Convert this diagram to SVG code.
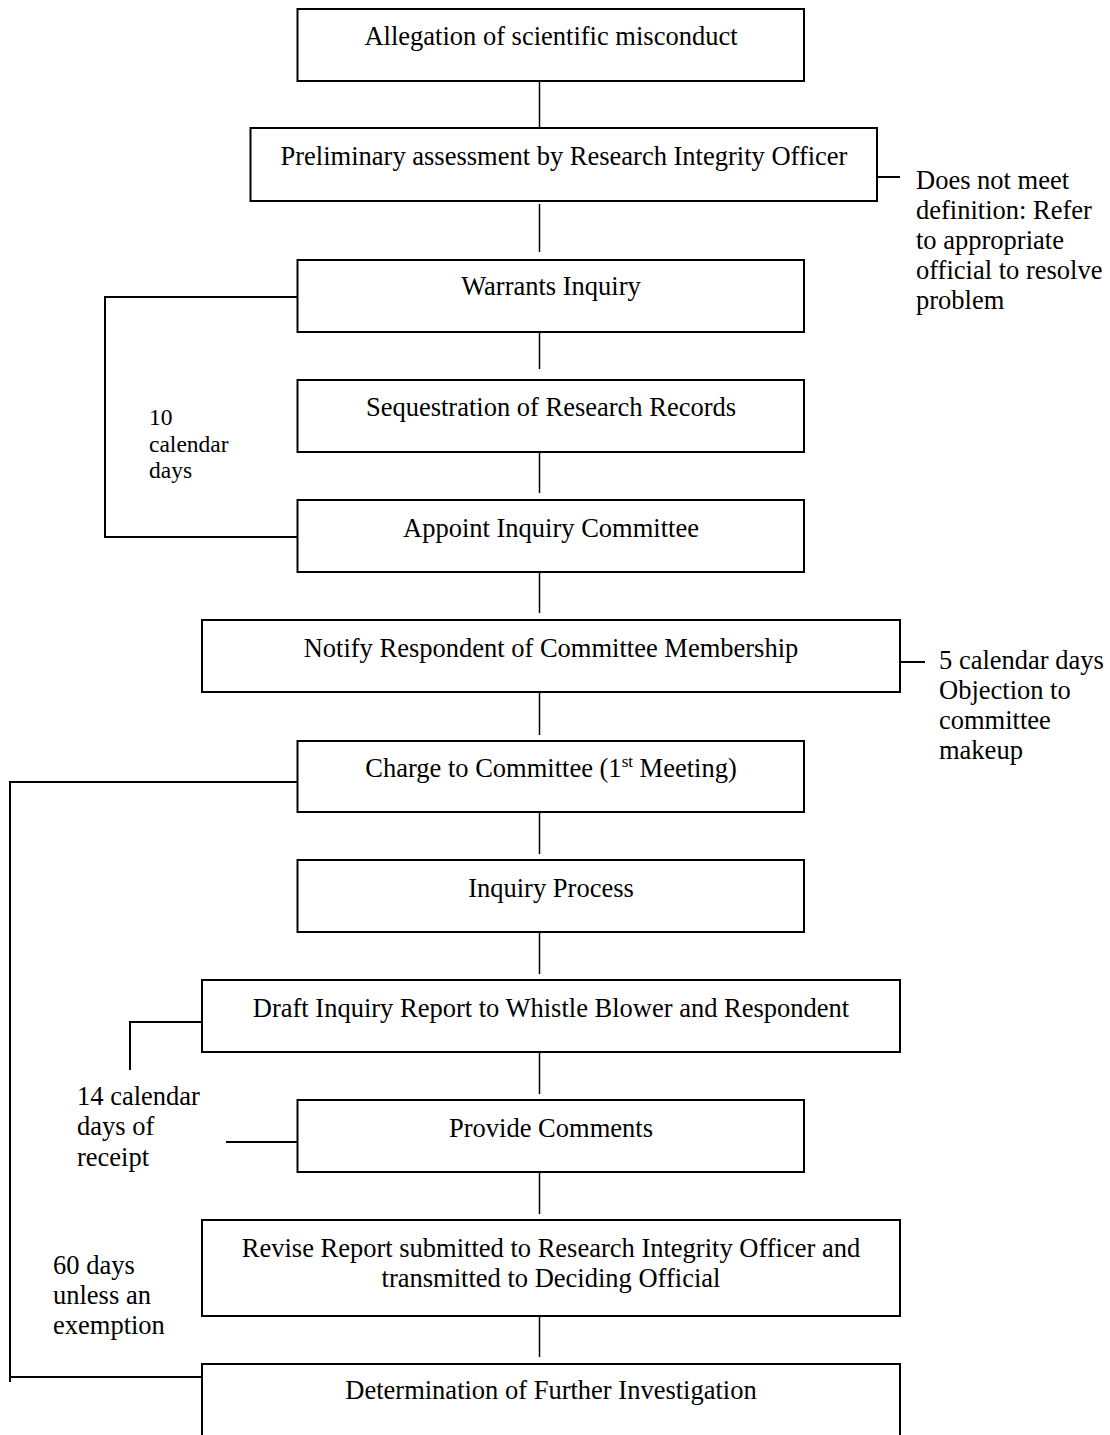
<svg xmlns="http://www.w3.org/2000/svg" width="1110" height="1435" viewBox="0 0 1110 1435">
<style>
.box{fill:#fff;stroke:#000;stroke-width:2}
.c{fill:none;stroke:#000;stroke-width:1.5}
.b{fill:none;stroke:#000;stroke-width:2}
text{font-family:"Liberation Serif","Times New Roman",serif;font-size:26.5px;fill:#000}
.m{text-anchor:middle}
.s{font-size:23.5px}
</style>
<rect width="1110" height="1435" fill="#fff"/>
<g id="connectors">
<line class="c" x1="539.5" y1="81" x2="539.5" y2="128"/>
<line class="c" x1="539.5" y1="204" x2="539.5" y2="252"/>
<line class="c" x1="539.5" y1="320" x2="539.5" y2="369"/>
<line class="c" x1="539.5" y1="443" x2="539.5" y2="493"/>
<line class="c" x1="539.5" y1="563" x2="539.5" y2="613"/>
<line class="c" x1="539.5" y1="687" x2="539.5" y2="735"/>
<line class="c" x1="539.5" y1="812" x2="539.5" y2="854"/>
<line class="c" x1="539.5" y1="932" x2="539.5" y2="974"/>
<line class="c" x1="539.5" y1="1052" x2="539.5" y2="1094"/>
<line class="c" x1="539.5" y1="1172" x2="539.5" y2="1214"/>
<line class="c" x1="539.5" y1="1316" x2="539.5" y2="1357"/>
<line class="b" x1="877" y1="177" x2="900" y2="177"/>
<polyline class="b" points="297.5,297 105,297 105,537 297.5,537"/>
<line class="b" x1="900" y1="662" x2="925" y2="662"/>
<polyline class="b" points="297.5,782 10,782 10,1382"/>
<line class="b" x1="10" y1="1377" x2="202" y2="1377"/>
<polyline class="b" points="202,1022 130,1022 130,1070"/>
<line class="b" x1="226" y1="1142" x2="297.5" y2="1142"/>
</g>
<g id="n1"><rect class="box" x="297.5" y="9" width="506.5" height="72"/><text class="m" x="551" y="45">Allegation of scientific misconduct</text></g>
<g id="n2"><rect class="box" x="250.5" y="128" width="626.5" height="73"/><text class="m" x="564" y="165">Preliminary assessment by Research Integrity Officer</text></g>
<g id="n2note"><text x="916" y="189">Does not meet</text><text x="916" y="219">definition: Refer</text><text x="916" y="249">to appropriate</text><text x="916" y="279">official to resolve</text><text x="916" y="309">problem</text></g>
<g id="n3"><rect class="box" x="297.5" y="260" width="506.5" height="72"/><text class="m" x="551" y="295">Warrants Inquiry</text></g>
<g id="n4"><rect class="box" x="297.5" y="380" width="506.5" height="72"/><text class="m" x="551" y="416">Sequestration of Research Records</text></g>
<g id="n4note"><text class="s" x="149" y="425">10</text><text class="s" x="149" y="452">calendar</text><text class="s" x="149" y="478">days</text></g>
<g id="n5"><rect class="box" x="297.5" y="500" width="506.5" height="72"/><text class="m" x="551" y="537">Appoint Inquiry Committee</text></g>
<g id="n6"><rect class="box" x="202" y="620" width="698" height="72"/><text class="m" x="551" y="657">Notify Respondent of Committee Membership</text></g>
<g id="n6note"><text x="939" y="669">5 calendar days</text><text x="939" y="699">Objection to</text><text x="939" y="729">committee</text><text x="939" y="759">makeup</text></g>
<g id="n7"><rect class="box" x="297.5" y="741" width="506.5" height="71"/><text class="m" x="551" y="777">Charge to Committee (1<tspan font-size="17" dy="-10">st</tspan><tspan dy="10"> Meeting)</tspan></text></g>
<g id="n8"><rect class="box" x="297.5" y="860" width="506.5" height="72"/><text class="m" x="551" y="897">Inquiry Process</text></g>
<g id="n9"><rect class="box" x="202" y="980" width="698" height="72"/><text class="m" x="551" y="1017">Draft Inquiry Report to Whistle Blower and Respondent</text></g>
<g id="n9note"><text x="77" y="1105">14 calendar</text><text x="77" y="1135">days of</text><text x="77" y="1166">receipt</text></g>
<g id="n10"><rect class="box" x="297.5" y="1100" width="506.5" height="72"/><text class="m" x="551" y="1137">Provide Comments</text></g>
<g id="n11"><rect class="box" x="202" y="1220" width="698" height="96"/><text class="m" x="551" y="1257">Revise Report submitted to Research Integrity Officer and</text><text class="m" x="551" y="1287">transmitted to Deciding Official</text></g>
<g id="n11note"><text x="53" y="1274">60 days</text><text x="53" y="1304">unless an</text><text x="53" y="1334">exemption</text></g>
<g id="n12"><polyline class="box" points="202,1440 202,1364 900,1364 900,1440"/><text class="m" x="551" y="1399">Determination of Further Investigation</text></g>
</svg>
